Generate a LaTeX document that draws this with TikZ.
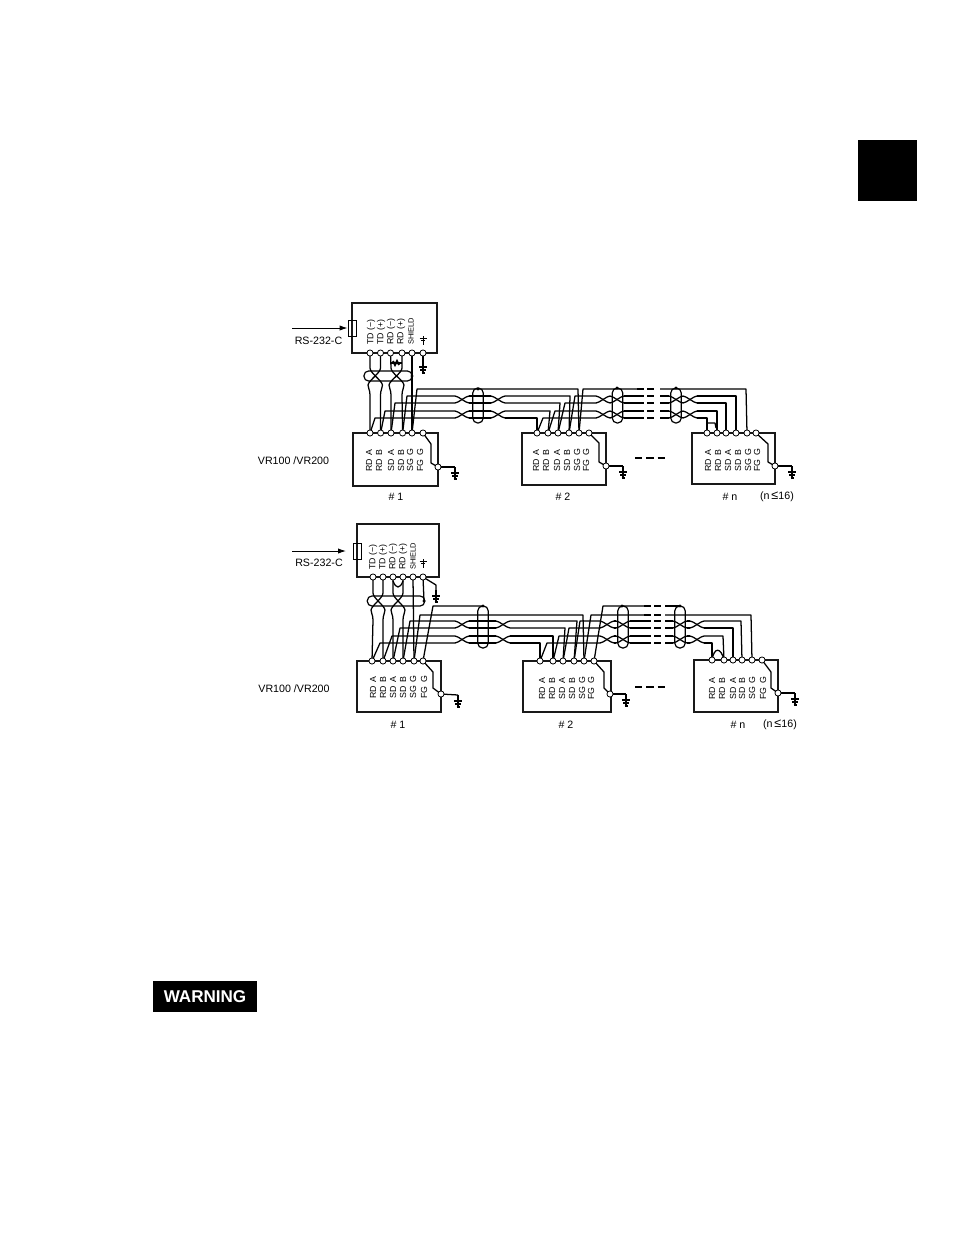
\documentclass[tikz,border=0pt]{standalone}
\usepackage{fontspec}
\setmainfont{Liberation Sans}
\usetikzlibrary{backgrounds,arrows.meta}
\tikzset{
  wire/.style={line width=0.95pt,line join=round},
  boxline/.style={line width=1pt,draw=black!90,inner sep=0pt},
  term/.style={circle,draw,fill=white,line width=0.6pt,minimum size=4.6pt,inner sep=0pt},
  dot/.style={circle,fill=black,minimum size=2.6pt,inner sep=0pt},
  vlab/.style={rotate=90,anchor=west,inner sep=0pt,font=\fontsize{6.6}{7}\selectfont},
  slab/.style={vlab,font=\fontsize{5.6}{7}\selectfont},
  lab/.style={inner sep=0pt,font=\fontsize{8}{9}\selectfont},
  shieldv/.style={draw,line width=0.9pt,rounded corners=3.6pt,inner sep=0pt,minimum width=7.8pt},
  shieldh/.style={draw,line width=0.9pt,rounded corners=3.4pt,inner sep=0pt,minimum height=7.5pt},
  dashw/.style={line width=0.95pt,dash pattern=on 5.2pt off 2.4pt},
  plug/.style={draw,line width=0.7pt,inner sep=0pt,minimum width=6pt,minimum height=12pt},
  arr/.style={line width=0.7pt,-{Latex[length=6pt,width=4pt]}},
}
\newcommand\twist[3]{%
  \draw[wire] (#1-7,#2) .. controls (#1-4,#2) and (#1+4,#3) .. (#1+7,#3);
  \draw[wire] (#1-7,#3) .. controls (#1-4,#3) and (#1+4,#2) .. (#1+7,#2);}
\newcommand\vtwist[7]{%
  \draw[wire] (#1.center) -- (#3,#5-9) .. controls (#3,#5-4) and (#4+1,#5+3) .. (#4+2,#5+8) .. controls (#4+2,#5+11) and (#4,#5+13) .. (#4,#5+18) -- (#7.center);
  \draw[wire] (#2.center) -- (#4,#5-9) .. controls (#4,#5-4) and (#3-1,#5+3) .. (#3-2,#5+8) .. controls (#3-2,#5+11) and (#3,#5+13) .. (#3,#5+18) -- (#6.center);}
\newcommand\gnd[2]{%
  \draw[wire] (#1,#2) -- (#1,#2+13);
  \draw[wire] (#1-4,#2+6) -- (#1+4,#2+6);
  \draw[wire] (#1-3,#2+9) -- (#1+3,#2+9);
  \draw[wire] (#1-1.5,#2+12) -- (#1+1.5,#2+12);}
\newcommand\sgnd[2]{%
  \draw[line width=0.6pt] (#1,#2) -- (#1,#2+9);
  \draw[line width=0.6pt] (#1-3.5,#2+2) -- (#1+3.5,#2+2);
  \draw[line width=0.6pt] (#1-2,#2+4.5) -- (#1+2,#2+4.5);}
\newcommand\devlabels[7]{%
  \node[vlab] at (#1,#7) {RD\, A};
  \node[vlab] at (#2,#7) {RD\, B};
  \node[vlab] at (#3,#7) {SD\, A};
  \node[vlab] at (#4,#7) {SD\, B};
  \node[vlab] at (#5,#7) {SG\, G};
  \node[vlab] at (#6,#7) {FG\, G};}
\newcommand\toplabels[6]{%
  \node[vlab] at (#1,#6) {TD (−)};
  \node[vlab] at (#2,#6) {TD (+)};
  \node[vlab] at (#3,#6) {RD (−)};
  \node[vlab] at (#4,#6) {RD (+)};
  \node[slab] at (#5,#6) {SHIELD};}
\begin{document}
\begin{tikzpicture}[x=0.75pt,y=-0.75pt]
\useasboundingbox (0,0) rectangle (954,1235);
\fill[black] (858,140) rectangle (917,201);
\node[fill=black,text=white,minimum width=78pt,minimum height=23.2pt,inner sep=0pt,font=\bfseries\fontsize{12.8}{14}\selectfont] (warn) at (205,996.5) {WARNING};

% ---------- upper diagram ----------
\node[boxline,draw,minimum width=63.75pt,minimum height=37.5pt] (top1) at (394.5,328) {};
\node[boxline,draw,minimum width=63.75pt,minimum height=39.75pt] (d11) at (395.5,459.5) {};
\node[boxline,draw,minimum width=63pt,minimum height=39pt] (d12) at (564,459) {};
\node[boxline,draw,minimum width=62.25pt,minimum height=38.25pt] (d1n) at (733.5,458.5) {};
\node[plug] (p1) at (352,328) {};
\coordinate (ar1) at (292,328);
\draw[arr] (ar1) -- (p1.west);
\node[lab] at (318.5,341) {RS-232-C};
\node[lab] at (293.5,461) {VR100 /VR200};
\toplabels{371}{381}{391}{401}{411}{345}
\sgnd{423}{336}
\devlabels{369}{379}{391}{401}{410}{420}{472}
\devlabels{536}{546}{557}{567}{577}{586}{472}
\devlabels{708}{718}{728}{738}{748}{757}{472}
\node[lab] at (396,497) {\# 1};
\node[lab] at (563,497) {\# 2};
\node[lab] at (730,497) {\# n};
\node[lab] at (777,497) {(n\,{\fontsize{9.5}{9}\selectfont ≤}16)};

\foreach \n/\x in {a/370,b/380.5,c/390.5,d/402,e/412,f/423} \node[term] (t1\n) at (\x,353) {};
\foreach \n/\x in {a/370,b/380.6,c/391,d/402.6,e/412,f/423} \node[term] (u1\n) at (\x,433) {};
\foreach \n/\x in {a/537,b/548,c/558,d/569,e/579,f/589} \node[term] (v1\n) at (\x,433) {};
\foreach \n/\x in {a/707,b/717,c/726,d/736,e/747,f/756} \node[term] (w1\n) at (\x,433) {};
\node[term] (u1g) at (438,467) {};
\node[term] (v1g) at (606,466) {};
\node[term] (w1g) at (775,466) {};
\node[dot] at (478,389) {};
\node[dot] at (617,388) {};
\node[dot] at (676,388) {};
\node[dot] (s1d) at (412,376) {};
\node[shieldh,minimum width=36pt] (sh1) at (388,376) {};
\node[shieldv,minimum height=26.2pt] at (478,405.5) {};
\node[shieldv,minimum height=26.2pt] at (617.5,405.5) {};
\node[shieldv,minimum height=26.2pt] at (676,405.5) {};

% ---------- lower diagram ----------
\node[boxline,draw,minimum width=61.5pt,minimum height=39.75pt] (top2) at (398,550.5) {};
\node[boxline,draw,minimum width=63pt,minimum height=38.25pt] (d21) at (399,686.5) {};
\node[boxline,draw,minimum width=66pt,minimum height=38.25pt] (d22) at (567,686.5) {};
\node[boxline,draw,minimum width=63pt,minimum height=39pt] (d2n) at (736,686) {};
\node[plug] (p2) at (357,551) {};
\coordinate (ar2) at (292,551);
\draw[arr] (ar2) -- (346,551);
\node[lab] at (319,563) {RS-232-C};
\node[lab] at (294,689) {VR100 /VR200};
\toplabels{373}{383}{393}{403}{413}{570}
\sgnd{423}{559}
\devlabels{373}{383}{393}{403}{413}{424}{699}
\devlabels{542}{552}{562}{572}{582}{591}{700}
\devlabels{712}{722}{733}{742}{752}{763}{700}
\node[lab] at (398,725) {\# 1};
\node[lab] at (566,725) {\# 2};
\node[lab] at (738,725) {\# n};
\node[lab] at (780,725) {(n\,{\fontsize{9.5}{9}\selectfont ≤}16)};

\foreach \n/\x in {a/373,b/383,c/393,d/403,e/413,f/423} \node[term] (t2\n) at (\x,577) {};
\foreach \n/\x in {a/372,b/383,c/393,d/403,e/414,f/423} \node[term] (u2\n) at (\x,661) {};
\foreach \n/\x in {a/540,b/553,c/563,d/574,e/584,f/594} \node[term] (v2\n) at (\x,661) {};
\foreach \n/\x in {a/712,b/724,c/733,d/742,e/752,f/762} \node[term] (w2\n) at (\x,660) {};
\node[term] (u2g) at (441,694) {};
\node[term] (v2g) at (610,694) {};
\node[term] (w2g) at (778,693) {};
\node[dot] at (483,606) {};
\node[dot] at (622,606) {};
\node[dot] at (680,606) {};
\node[dot] (s2d) at (424,601) {};
\node[shieldh,minimum width=43pt] (sh2) at (396,601) {};
\node[shieldv,minimum height=31.5pt] at (483,627) {};
\node[shieldv,minimum height=31.5pt] at (623,627) {};
\node[shieldv,minimum height=31.5pt] at (680,627) {};

\begin{scope}[on background layer]
% upper: riser between head unit and device #1
\vtwist{t1a}{t1b}{370}{380.5}{377}{u1a}{u1b}
\vtwist{t1c}{t1d}{391}{402}{377}{u1c}{u1d}
\draw[wire] (t1e.center) -- (u1e.center);
\draw[wire] (t1f.center) -- (423,366);
\gnd{423}{361}
\draw[wire] (390.5,363) -- (402,363);
\draw[line width=1.4pt] (393,361) -- (395,365) -- (397,361) -- (399,365);
% upper: device #1 to #2
\draw[wire] (u1a.center) -- (375,418) -- (455,418);
\draw[wire] (u1b.center) -- (385,411) -- (455,411);
\draw[wire] (u1c.center) -- (395,403) -- (455,403);
\draw[wire] (u1d.center) -- (407,396) -- (455,396);
\draw[wire] (u1e.center) -- (417,389) -- (578,389) -- (v1e.center);
\twist{462}{396}{403}\twist{462}{411}{418}
\twist{498}{396}{403}\twist{498}{411}{418}
\foreach \y in {396,403,411,418} \draw[wire] (469,\y) -- (491,\y);
\draw[wire] (505,418) -- (537,418) -- (v1a.center);
\draw[wire] (505,411) -- (550,411) -- (v1b.center);
\draw[wire] (505,403) -- (560,403) -- (v1c.center);
\draw[wire] (505,396) -- (570,396) -- (v1d.center);
% upper: device #2 to #n
\draw[wire] (v1a.center) -- (543,418) -- (596,418);
\draw[wire] (v1b.center) -- (555,411) -- (596,411);
\draw[wire] (v1c.center) -- (565,403) -- (596,403);
\draw[wire] (v1d.center) -- (575,396) -- (596,396);
\draw[wire] (v1e.center) -- (583,389) -- (637,389);
\twist{603}{396}{403}\twist{603}{411}{418}
\twist{617}{396}{403}\twist{617}{411}{418}
\foreach \y in {396,403,411,418} {\draw[wire] (624,\y) -- (637,\y); \draw[wire] (660,\y) -- (669,\y);}
\foreach \y in {389,396,403,411,418} \draw[dashw] (637,\y) -- (654,\y);
\twist{676}{396}{403}\twist{676}{411}{418}
\twist{690}{396}{403}\twist{690}{411}{418}
\draw[wire] (697,418) -- (707,418) -- (w1a.center);
\draw[wire] (697,411) -- (717,411) -- (w1b.center);
\draw[wire] (697,403) -- (726,403) -- (w1c.center);
\draw[wire] (697,396) -- (736,396) -- (w1d.center);
\draw[wire] (660,389) -- (746,389) -- (w1e.center);
\draw[wire] (w1a.center) -- (707,423) -- (715,423) -- (716,428);
% upper: earth links
\draw[wire] (u1f.center) -- (431,444) -- (431,463) -- (u1g.center);
\draw[wire] (u1g.center) -- (455,467);
\gnd{455}{467}
\draw[wire] (v1f.center) -- (599,443) -- (599,462) -- (v1g.center);
\draw[wire] (v1g.center) -- (623,466);
\gnd{623}{466}
\draw[wire] (w1f.center) -- (768,444) -- (768,462) -- (w1g.center);
\draw[wire] (w1g.center) -- (792,466);
\gnd{792}{466}
\draw[line width=0.8pt,dash pattern=on 5.5pt off 3pt] (635,458) -- (665,458);

% lower: riser between head unit and device #1
\vtwist{t2a}{t2b}{373}{383}{602}{u2a}{u2b}
\vtwist{t2c}{t2d}{393}{403}{602}{u2c}{u2d}
\draw[wire] (t2e.center) -- (u2e.center);
\draw[wire] (t2f.center) -- (s2d.center);
\draw[wire] (t2f.center) -- (436,585) -- (436,594);
\gnd{436}{590}
\draw[wire] (393,581) .. controls (396,589) and (400,589) .. (403,581);
% lower: device #1 to #2
\draw[wire] (u2a.center) -- (380,643) -- (455,643);
\draw[wire] (u2b.center) -- (392,636) -- (455,636);
\draw[wire] (u2c.center) -- (400,628) -- (455,628);
\draw[wire] (u2d.center) -- (410,621) -- (455,621);
\draw[wire] (u2e.center) -- (420,615) -- (583,615) -- (v2e.center);
\draw[wire] (u2f.center) -- (433,606) -- (483,606);
\twist{462}{621}{628}\twist{462}{636}{643}
\twist{503}{621}{628}\twist{503}{636}{643}
\foreach \y in {621,628,636,643} \draw[wire] (469,\y) -- (496,\y);
\draw[wire] (510,643) -- (540,643) -- (v2a.center);
\draw[wire] (510,636) -- (553,636) -- (v2b.center);
\draw[wire] (510,628) -- (565,628) -- (v2c.center);
\draw[wire] (510,621) -- (577,621) -- (v2d.center);
% lower: device #2 to #n
\draw[wire] (v2a.center) -- (547,643) -- (600,643);
\draw[wire] (v2b.center) -- (559,636) -- (600,636);
\draw[wire] (v2c.center) -- (569,628) -- (600,628);
\draw[wire] (v2d.center) -- (580,621) -- (600,621);
\draw[wire] (v2e.center) -- (591,615) -- (644,615);
\draw[wire] (v2f.center) -- (603,606) -- (644,606);
\twist{607}{621}{628}\twist{607}{636}{643}
\twist{623}{621}{628}\twist{623}{636}{643}
\foreach \y in {621,628,636,643} {\draw[wire] (614,\y) -- (616,\y); \draw[wire] (630,\y) -- (644,\y); \draw[wire] (665,\y) -- (673,\y);}
\foreach \y in {606,615,621,628,636,643} \draw[dashw] (644,\y) -- (661,\y);
\twist{680}{621}{628}\twist{680}{636}{643}
\twist{697}{621}{628}\twist{697}{636}{643}
\foreach \y in {621,628,636,643} \draw[wire] (687,\y) -- (690,\y);
\draw[wire] (704,643) -- (712,643) -- (w2a.center);
\draw[wire] (704,636) -- (723,636) -- (w2b.center);
\draw[wire] (704,628) -- (733,628) -- (w2c.center);
\draw[wire] (704,621) -- (741,621) -- (w2d.center);
\draw[wire] (665,615) -- (751,615) -- (w2e.center);
\draw[wire] (665,606) -- (680,606);
\draw[wire] (w2a.center) .. controls (714,647) and (721,647) .. (w2b.center);
% lower: earth links
\draw[wire] (u2f.center) -- (433,672) -- (433,688) -- (u2g.center);
\draw[wire] (u2g.center) -- (458,695);
\gnd{458}{695}
\draw[wire] (v2f.center) -- (604,672) -- (604,688) -- (v2g.center);
\draw[wire] (v2g.center) -- (626,694);
\gnd{626}{694}
\draw[wire] (w2f.center) -- (771,672) -- (771,688) -- (w2g.center);
\draw[wire] (w2g.center) -- (795,693);
\gnd{795}{693}
\draw[line width=0.8pt,dash pattern=on 5.5pt off 3pt] (635,687) -- (665,687);
\end{scope}
\end{tikzpicture}
\end{document}
